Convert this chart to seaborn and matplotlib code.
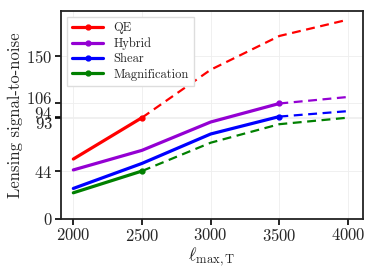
import numpy as np
import pandas as pd
import seaborn as sns
import matplotlib
matplotlib.use("Agg")
import matplotlib.pyplot as plt
import matplotlib.transforms as mtransforms
from matplotlib.lines import Line2D

sns.set_style("whitegrid")
plt.rcParams['font.family'] = 'serif'
plt.rcParams['font.serif'] = ['cmr10']
plt.rcParams['mathtext.fontset'] = 'cm'
plt.rcParams['axes.formatter.use_mathtext'] = True

ell = [2000, 2500, 3000, 3500, 4000]
names = ['QE', 'Hybrid', 'Shear', 'Magnification']
qe = [55, 93, 137, 168, 183]
hybrid = [45, 63, 89, 106, 112]
shear = [28, 51, 78, 94, 99]
magnification = [24, 44, 70, 87, 93]
split_ell = [2500, 3500, 3500, 2500]   # where solid turns into dashed
colors = ['red', 'darkviolet', 'blue', 'green']
yticks_extra = [0, 150]

series = dict(zip(names, [qe, hybrid, shear, magnification]))

fig = plt.figure(figsize=(3.74, 2.73), dpi=100)
ax = fig.add_axes([0.163, 0.198, 0.808, 0.762])

handles = []
for name, col, cut in zip(names, colors, split_ell):
    df = pd.DataFrame({'ell': ell, 'snr': series[name]})
    solid = df[df.ell <= cut]
    dashed = df[df.ell >= cut]
    sns.lineplot(data=solid, x='ell', y='snr', color=col, lw=2.3, ax=ax)
    sns.lineplot(data=dashed, x='ell', y='snr', color=col, lw=1.6, ls=(0, (4, 2.5)), ax=ax)
    pt = df[df.ell == cut]
    ax.plot(pt.ell, pt.snr, 'o', color=col, ms=3.5)
    handles.append(Line2D([], [], color=col, lw=2.3, marker='o', ms=3.5))

ticks = sorted(yticks_extra + [series[n][ell.index(c)] for n, c in zip(names, split_ell)])
ax.set_yticks(ticks)
ax.set_xticks([2000, 2500, 3000, 3500, 4000])
ax.set_ylim(0, 191)
ax.set_xlim(1910, 4110)
ax.tick_params(axis='both', labelsize=12, length=4, width=1.2, color='black',
               left=True, bottom=True, pad=2)
ax.grid(color='#eeeeee', lw=0.6)
for s in ax.spines.values():
    s.set_color('#222222')
    s.set_linewidth(1.3)

# nudge crowded tick labels apart (offsets in points)
nudge = {106: 4.5, 94: 3.0, 93: -3.5}
for lab, t in zip(ax.get_yticklabels(), ticks):
    if t in nudge:
        lab.set_transform(lab.get_transform() +
                          mtransforms.ScaledTranslation(0, nudge[t] / 72, fig.dpi_scale_trans))

ax.set_xlabel(r'$\ell_{\rm max,T}$', fontsize=13, labelpad=1)
ax.set_ylabel('Lensing signal-to-noise', fontsize=12, labelpad=2)
ax.legend(handles, names, loc='upper left', fontsize=9, frameon=True,
          handlelength=2.5, borderpad=0.4, labelspacing=0.25, framealpha=1,
          edgecolor='#dddddd', fancybox=False)

fig.savefig('out.png', dpi=100)
